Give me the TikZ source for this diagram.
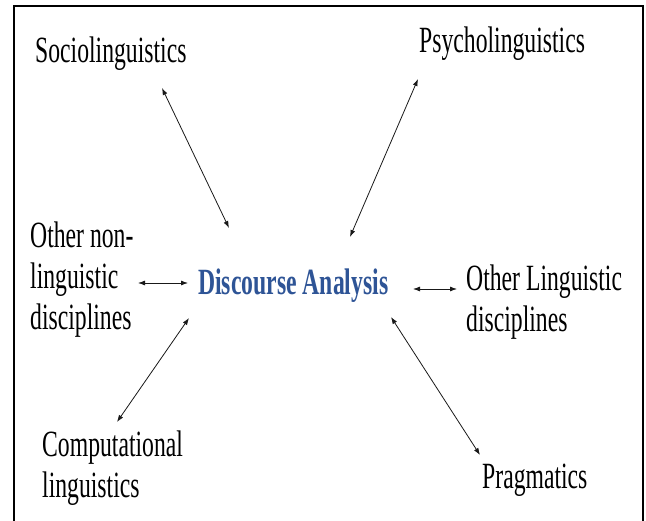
\documentclass[tikz,border=0pt]{standalone}
\usepackage{fontspec}
\setmainfont[FakeStretch=0.64]{Liberation Serif}
\usepackage{xcolor}
\usepackage{tikz}
\usetikzlibrary{arrows.meta, positioning, calc}
\definecolor{myblue}{RGB}{46,84,150}
\definecolor{mydark}{RGB}{25,25,25}
\tikzset{
  field/.style={inner sep=0pt, anchor=base west, align=left,
    font=\fontsize{37}{41}\selectfont},
  core/.style={field, font=\fontsize{37}{41}\selectfont\bfseries, text=myblue},
  biarrow/.style={{Latex[length=7pt,width=5pt]}-{Latex[length=7pt,width=5pt]},
    line width=0.8pt, color=mydark},
  frame/.style={line width=2pt}
}
\begin{document}
\begin{tikzpicture}[x=1pt, y=-1pt]
  \useasboundingbox (0,0) rectangle (646,521);

  % frame
  \draw[frame] (13.5,530) -- (13.5,6) -- (643,6) -- (643,530);

  % centre
  \node[core] (da) at (198,295) {Discourse Analysis};

  % fields round it (base = last line)
  \node[field] (socio) at (35,63) {Sociolinguistics};
  \node[field] (psycho) at (419,53) {Psycholinguistics};
  \node[field] (othernon) at (30,330) {Other non-\\linguistic\\disciplines};
  \node[field] (otherling) at (466,332) {Other Linguistic\\disciplines};
  \node[field] (comp) at (42,497) {Computational\\linguistics};
  \node[field] (prag) at (482,489) {Pragmatics};

  % links
  \draw[biarrow] ([shift={(127,25)}]socio.base west) -- ([shift={(31,-67)}]da.base west);
  \draw[biarrow] ([shift={(-1,26)}]psycho.base west) -- ([shift={(152,-58)}]da.base west);
  \draw[biarrow] ([shift={(108,-47)}]othernon.base west) -- ([shift={(-10,-12)}]da.base west);
  \draw[biarrow] ([shift={(215,-6)}]da.base west) -- ([shift={(-9,-43)}]otherling.base west);
  \draw[biarrow] ([shift={(-9,23)}]da.base west) -- ([shift={(75,-75)}]comp.base west);
  \draw[biarrow] ([shift={(193,22)}]da.base west) -- ([shift={(-2,-34)}]prag.base west);
\end{tikzpicture}
\end{document}
